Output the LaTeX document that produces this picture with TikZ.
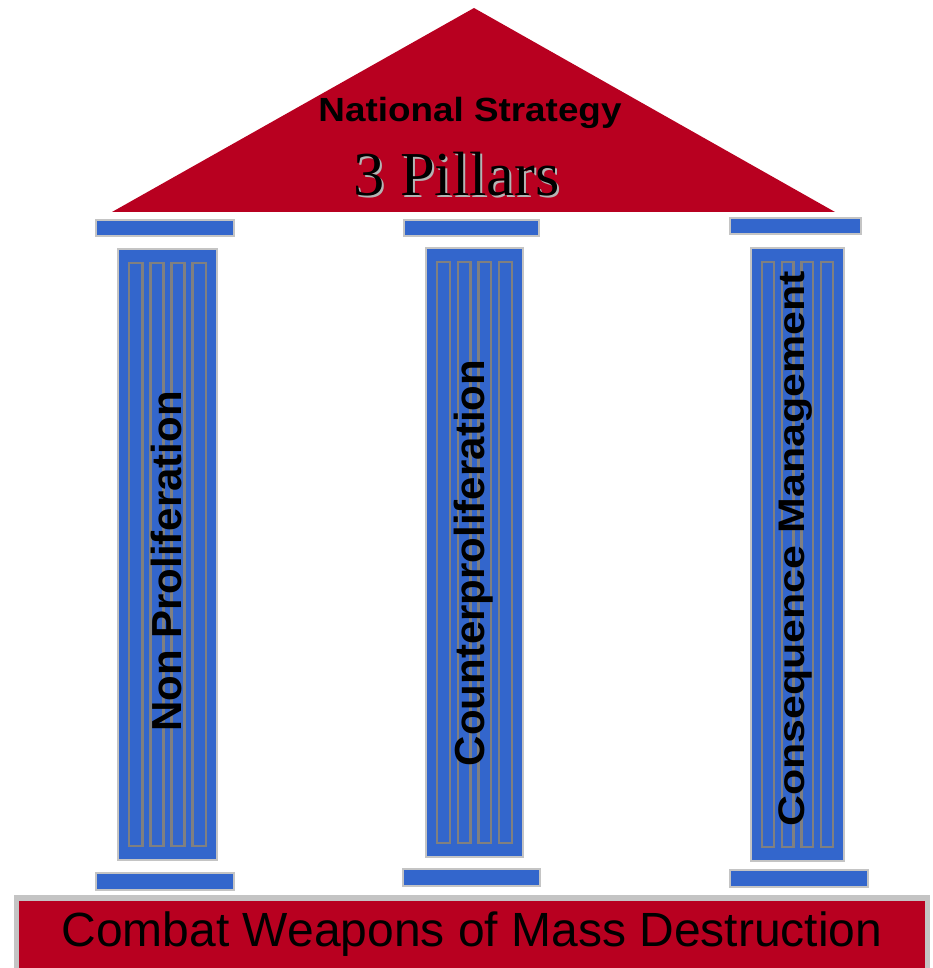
\documentclass[tikz,border=0pt]{standalone}
\usepackage{graphicx}
\usepackage{fontspec}
\setmainfont{Liberation Sans}
\newfontfamily\serifone{Liberation Serif}
\definecolor{roofred}{RGB}{184,0,32}
\definecolor{pillblue}{RGB}{51,102,204}
\definecolor{edgegray}{RGB}{196,196,196}
\definecolor{flutegray}{RGB}{128,128,128}
\definecolor{shadowgray}{RGB}{180,180,180}
\newcommand\mypillar[4]{%
  \draw[shaft] (#1,#3) rectangle (#2,#4);
  \foreach \i in {0,...,3}{
    \pgfmathsetmacro\stp{(#2-#1-20+5.5)/4}
    \draw[flute] ({#1+10+\i*\stp+1.2}, #3+14) rectangle ({#1+10+\i*\stp+\stp-5.5-1.2}, #4-14);
  }%
}
\begin{document}
\begin{tikzpicture}[x=1pt,y=-1pt,
  bar/.style={fill=pillblue,draw=edgegray,line width=2pt},
  shaft/.style={fill=pillblue,draw=edgegray,line width=2pt},
  flute/.style={draw=flutegray,line width=2.4pt},
  coltext/.style={rotate=90,anchor=base,inner sep=0pt,font=\bfseries\fontsize{42}{50}\selectfont}]
\useasboundingbox (0,0) rectangle (932,968);
% roof
\fill[roofred] (474,8) -- (835,212) -- (112,212) -- cycle;
\node[anchor=base,inner sep=0pt,font=\bfseries\fontsize{33.5}{40}\selectfont] (ns) at (470,121.7) {\scalebox{1.1}[1]{National Strategy}};
\node[anchor=base,inner sep=0pt,font=\serifone\fontsize{62.5}{70}\selectfont] (pillars) at (456.5,195.5) {\rlap{\kern2pt\raisebox{-2pt}{\color{shadowgray}3 Pillars}}3 Pillars};
% capitals
\draw[bar] (96,220) rectangle (234,236);
\draw[bar] (404,220) rectangle (539,236);
\draw[bar] (730,218) rectangle (861,234);
% shafts
\mypillar{118}{217}{249}{860}
\mypillar{426}{523}{248}{857}
\mypillar{751}{844}{248}{861}
% bases
\draw[bar] (96,873) rectangle (234,890);
\draw[bar] (403,869) rectangle (540,886);
\draw[bar] (730,870) rectangle (868,887);
% column labels
\node[coltext] (np) at (181,561.5) {Non Proliferation};
\node[coltext] (cp) at (484,563) {Counterproliferation};
\node[coltext,font=\bfseries\fontsize{37}{44}\selectfont] (cm) at (804,549) {\scalebox{1.16}[1]{Consequence Management}};
% foundation
\fill[edgegray] (14,895) rectangle (930,968);
\fill[roofred] (19,901) rectangle (925,968);
\node[anchor=base,inner sep=0pt,font=\fontsize{48}{56}\selectfont] (cw) at (472,946.7) {Combat Weapons of Mass Destruction};
\end{tikzpicture}
\end{document}
